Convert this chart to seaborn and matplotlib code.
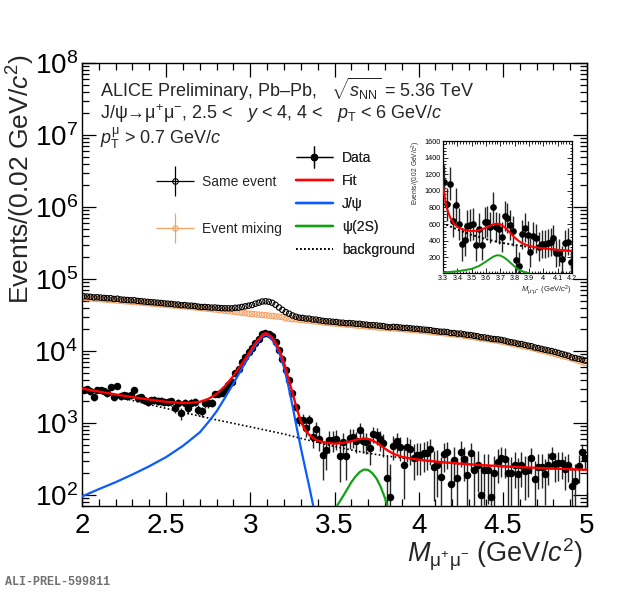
import numpy as np
import pandas as pd
import matplotlib
matplotlib.use("Agg")
import matplotlib.pyplot as plt
import matplotlib.ticker as mticker
from matplotlib.container import ErrorbarContainer
from matplotlib.legend_handler import HandlerErrorbar
from matplotlib.lines import Line2D
import seaborn as sns

# histogram binning: 150 bins of 0.02 GeV/c2 between 2 and 5
mass_lo, bin_w, n_bins = 2.0, 0.02, 150
mass = np.round(mass_lo + bin_w * (np.arange(n_bins) + 0.5), 3)

# mixed-event subtracted data
data_counts = [
    2900, 2980, 2750, 2290, 2900, 2850, 2750, 2600, 3150, 2290,
    3220, 2340, 2420, 2380, 2420, 2900, 2240, 2290, 2110, 1950,
    2060, 2110, 2020, 2020, 1950, 1950, 1990, 1610, 1870, 1350,
    1870, 1590, 1900, 1950, 1510, 1440, 1870, 1870, 1900, 2490,
    2540, 2640, 2900, 3320, 3670, 4900, 5600, 6900, 8200, 9600,
    10800, 13000, 14800, 16900, 17600, 17300, 16000, 13500, 10300, 7600,
    5400, 4000, 2600, 1650, 1100, 1110, 840, 1085, 640, 835,
    600, 355, 415, 575, 585, 605, 343, 540, 350, 625,
    630, 560, 800, 564, 546, 442, 698, 676, 589, 519,
    170, 92, 480, 558, 466, 260, 456, 428, 330, 357,
    357, 377, 385, 428, 247, 257, 176, 369, 389, 142,
    305, 170, 397, 311, 189, 377, 222, 260, 100, 222,
    222, 92, 200, 290, 321, 311, 200, 200, 260, 195,
    260, 217, 222, 321, 166, 247, 247, 195, 260, 346,
    268, 274, 280, 230, 260, 133, 158, 250, 397, 330,
]
data_err = [
    284, 283, 281, 280, 279, 277, 276, 275, 274, 273,
    272, 270, 269, 268, 267, 266, 264, 263, 262, 261,
    259, 258, 257, 256, 254, 253, 252, 251, 249, 248,
    247, 246, 245, 243, 242, 241, 240, 239, 238, 237,
    236, 235, 235, 234, 233, 232, 232, 232, 233, 234,
    235, 236, 238, 240, 241, 240, 236, 231, 225, 219,
    215, 212, 207, 205, 203, 201, 200, 199, 198, 197,
    196, 194, 193, 192, 191, 190, 190, 189, 187, 186,
    185, 184, 184, 183, 182, 181, 180, 179, 179, 178,
    176, 175, 175, 174, 173, 173, 172, 172, 171, 170,
    169, 168, 167, 167, 166, 165, 163, 162, 162, 160,
    159, 158, 157, 156, 155, 154, 153, 151, 150, 149,
    148, 146, 145, 144, 143, 141, 139, 139, 137, 134,
    133, 132, 130, 128, 128, 126, 124, 122, 121, 119,
    117, 116, 114, 112, 111, 110, 108, 106, 104, 102,
]
same_event = [
    57400, 56980, 56350, 55390, 55600, 55050, 54450, 53900, 53950, 52690,
    53120, 51840, 51420, 50980, 50520, 50600, 49540, 49090, 48510, 47950,
    47560, 47210, 46720, 46220, 45750, 45350, 44990, 44210, 44070, 43150,
    43270, 42590, 42500, 42050, 41210, 40740, 40770, 40370, 39900, 40090,
    39640, 39240, 39100, 39020, 38970, 39700, 39900, 40800, 41600, 42500,
    43400, 45300, 46700, 48500, 48900, 48200, 46600, 43700, 40200, 37200,
    34600, 32900, 31100, 29850, 29000, 28710, 28140, 28085, 27340, 27235,
    26700, 26155, 25815, 25675, 25385, 25205, 24743, 24640, 24250, 24325,
    24130, 23760, 23800, 23364, 23146, 22742, 22798, 22576, 22289, 22119,
    21570, 21292, 21580, 21458, 21166, 20860, 20856, 20628, 20330, 20257,
    19957, 19777, 19585, 19428, 18947, 18757, 18476, 18469, 18289, 17742,
    17705, 17370, 17397, 17011, 16689, 16577, 16222, 15960, 15500, 15422,
    15122, 14792, 14600, 14490, 14221, 13911, 13500, 13200, 12960, 12595,
    12460, 12117, 11822, 11621, 11166, 10947, 10647, 10395, 10160, 9946,
    9668, 9374, 9080, 8830, 8560, 8133, 7958, 7750, 7597, 7330,
]
mixed_event = [
    54500, 54000, 53600, 53100, 52700, 52200, 51700, 51300, 50800, 50400,
    49900, 49500, 49000, 48600, 48100, 47700, 47300, 46800, 46400, 46000,
    45500, 45100, 44700, 44200, 43800, 43400, 43000, 42600, 42200, 41800,
    41400, 41000, 40600, 40100, 39700, 39300, 38900, 38500, 38000, 37600,
    37100, 36600, 36200, 35700, 35300, 34800, 34300, 33900, 33400, 32900,
    32600, 32300, 31900, 31600, 31300, 30900, 30600, 30200, 29900, 29600,
    28300, 28000, 27600, 27400, 27100, 26800, 26500, 26200, 25900, 25600,
    25300, 25000, 24600, 24300, 24100, 23900, 23700, 23400, 23200, 23000,
    22800, 22500, 22300, 22100, 21900, 21600, 21400, 21200, 21000, 21000,
    20800, 20600, 20500, 20300, 20100, 20000, 19800, 19600, 19400, 19300,
    19000, 18800, 18600, 18400, 18100, 17900, 17800, 17600, 17400, 17100,
    16900, 16700, 16500, 16200, 16000, 15700, 15500, 15200, 14900, 14700,
    14500, 14300, 14000, 13800, 13500, 13200, 12900, 12600, 12300, 12000,
    11800, 11500, 11300, 11000, 10700, 10400, 10100, 9900, 9600, 9300,
    9100, 8800, 8500, 8300, 8100, 7800, 7600, 7300, 7000, 6800,
]

# fit components
fit_m = [2.0, 2.1, 2.2, 2.3, 2.4, 2.5, 2.6, 2.65, 2.7, 2.75,
         2.8, 2.85, 2.9, 2.95, 3.0, 3.025, 3.05, 3.075, 3.09, 3.1,
         3.125, 3.15, 3.175, 3.2, 3.225, 3.25, 3.275, 3.3, 3.325, 3.35,
         3.375, 3.4, 3.45, 3.5, 3.55, 3.6, 3.625, 3.65, 3.675, 3.7,
         3.725, 3.75, 3.775, 3.8, 3.825, 3.85, 3.9, 3.95, 4.0, 4.1,
         4.2, 4.3, 4.4, 4.5, 4.6, 4.7, 4.8, 4.9, 5.0]
fit_total = [3000, 2720, 2480, 2280, 2110, 1960, 1890, 1900, 1960, 2150,
             2520, 3250, 4500, 6600, 10000, 12300, 14600, 17000, 17600, 17400,
             15700, 13000, 9900, 6900, 4200, 2650, 1600, 1050, 800, 680,
             610, 565, 530, 515, 525, 555, 578, 598, 605, 598,
             570, 530, 485, 438, 402, 372, 338, 320, 308, 290,
             277, 266, 257, 250, 243, 237, 232, 227, 223]
jpsi_m = [2.0, 2.1, 2.2, 2.3, 2.4, 2.5, 2.6, 2.7, 2.75, 2.8,
          2.85, 2.9, 2.95, 3.0, 3.025, 3.05, 3.075, 3.09, 3.1, 3.125,
          3.15, 3.175, 3.2, 3.225, 3.25, 3.275, 3.3, 3.325, 3.35, 3.375]
jpsi_vals = [95, 120, 150, 192, 250, 335, 480, 740, 1020, 1450,
             2250, 3550, 5700, 9100, 11400, 13700, 16000, 16700, 16500, 14800,
             12100, 9000, 5900, 3350, 1750, 870, 450, 240, 130, 68]
psi2s_m = [3.3, 3.35, 3.4, 3.45, 3.5, 3.55, 3.6, 3.625, 3.65, 3.675,
           3.7, 3.725, 3.75, 3.775, 3.8, 3.825, 3.85, 3.875, 3.9]
psi2s_vals = [18, 25, 33, 46, 62, 95, 150, 180, 208, 225,
              222, 200, 168, 128, 90, 58, 35, 20, 10]
bkg_m = [2.0, 2.2, 2.4, 2.6, 2.8, 3.0, 3.2, 3.3, 3.4, 3.5,
         3.6, 3.7, 3.8, 3.9, 4.0, 4.2, 4.4, 4.6, 4.8, 5.0]
bkg_vals = [2990, 2330, 1800, 1400, 1100, 880, 700, 610, 535, 470,
            420, 378, 350, 326, 305, 274, 254, 240, 229, 220]

hist = pd.DataFrame({"mass": mass, "data": data_counts, "err": data_err,
                     "same": same_event, "mixed": mixed_event})

RED, BLUE, GREEN, ORANGE = "#ff0000", "#0a5cff", "#12a012", "#f5a262"

sns.set_theme(style="ticks")
plt.rcParams["font.family"] = ["Liberation Sans", "DejaVu Sans"]
plt.rcParams["mathtext.fontset"] = "custom"
plt.rcParams["mathtext.rm"] = "Liberation Sans"
plt.rcParams["mathtext.it"] = "Liberation Sans:italic"
plt.rcParams["mathtext.bf"] = "Liberation Sans:bold"
plt.rcParams["axes.linewidth"] = 1.0
plt.rcParams["axes.edgecolor"] = "black"

fig = plt.figure(figsize=(6.2, 5.97), dpi=100)
ax = fig.add_axes([82 / 620, 1 - 506 / 597, 505 / 620, 443 / 597])
ax.set_yscale("log")

# same event / event mixing
sns.scatterplot(data=hist, x="mass", y="mixed", ax=ax, marker="o", s=15,
                facecolor="none", edgecolor=ORANGE, linewidth=0.8, zorder=2)
sns.scatterplot(data=hist, x="mass", y="same", ax=ax, marker="o", s=15,
                facecolor="none", edgecolor="black", linewidth=0.8, zorder=3)

# data points
ax.errorbar(hist["mass"], hist["data"], yerr=hist["err"], fmt="o", ms=4.4,
            color="black", ecolor="0.15", elinewidth=1.0, zorder=4)

# fit curves
sns.lineplot(x=bkg_m, y=bkg_vals, ax=ax, color="black", lw=1.2,
             linestyle=(0, (1, 1.4)), zorder=5)
sns.lineplot(x=jpsi_m, y=jpsi_vals, ax=ax, color=BLUE, lw=1.6, zorder=6)
sns.lineplot(x=psi2s_m, y=psi2s_vals, ax=ax, color=GREEN, lw=1.6, zorder=6)
sns.lineplot(x=fit_m, y=fit_total, ax=ax, color=RED, lw=1.7, zorder=7)

ax.set_xlim(2, 5)
ax.set_ylim(70, 1e8)
ax.xaxis.set_major_locator(mticker.MultipleLocator(0.5))
ax.xaxis.set_minor_locator(mticker.MultipleLocator(0.1))
ax.xaxis.set_major_formatter(mticker.StrMethodFormatter("{x:g}"))
ax.yaxis.set_major_locator(mticker.LogLocator(base=10, numticks=20))
ax.yaxis.set_minor_locator(mticker.LogLocator(base=10, subs=np.arange(2, 10), numticks=100))
ax.yaxis.set_minor_formatter(mticker.NullFormatter())
ax.tick_params(which="both", direction="in", top=True, right=True, width=0.9, colors="black")
ax.tick_params(which="major", length=10, labelsize=20)
ax.tick_params(which="minor", length=5)
ax.tick_params(axis="x", pad=5)
ax.tick_params(axis="y", pad=3)

ax.set_xlabel(r"$M_{\mathrm{\mu^{+}\mu^{-}}}$ (GeV/$c^{2}$)", fontsize=19.5, loc="right")
ax.set_ylabel(r"Events/(0.02 GeV/$c^{2}$)", fontsize=19, loc="top")
ax.xaxis.set_label_coords(0.993, -0.07)
ax.yaxis.set_label_coords(-0.09, 1.02)

# header text
fig.text(100 / 620, 1 - 89 / 597, r"ALICE Preliminary, Pb–Pb,   $\sqrt{s_{\mathrm{NN}}}$ = 5.36 TeV",
         fontsize=13, va="center")
fig.text(100 / 620, 1 - 114 / 597, r"J/ψ→μ$^{+}$μ$^{-}$, 2.5 <   $y$ < 4, 4 <   $p_{\mathrm{T}}$ < 6 GeV/$c$",
         fontsize=13, va="center")
fig.text(100 / 620, 1 - 138 / 597, r"$p_{\mathrm{T}}^{\mathrm{\mu}}$ > 0.7 GeV/$c$",
         fontsize=13, va="center")

# legends
h_same = ax.errorbar([np.nan], [np.nan], xerr=[0.1], yerr=[0.1], fmt="o", ms=4,
                     mfc="none", mec="black", mew=0.8, ecolor="black", elinewidth=0.9)
h_mix = ax.errorbar([np.nan], [np.nan], xerr=[0.1], yerr=[0.1], fmt="o", ms=4,
                    mfc="none", mec=ORANGE, mew=0.8, ecolor=ORANGE, elinewidth=0.9)
h_data = ax.errorbar([np.nan], [np.nan], xerr=[0.1], yerr=[0.1], fmt="o", ms=4.4,
                     color="black", ecolor="black", elinewidth=0.9)

leg1 = ax.legend([h_same, h_mix], ["Same event", "Event mixing"], loc="upper left",
                 bbox_to_anchor=(156 / 620, 1 - 175 / 597), bbox_transform=fig.transFigure,
                 frameon=False, fontsize=10, borderpad=0, borderaxespad=0,
                 handlelength=2.73, handletextpad=0.55, labelspacing=2.37,
                 handler_map={ErrorbarContainer: HandlerErrorbar(xerr_size=1.37, yerr_size=1.08)})
ax.add_artist(leg1)

fit_handles = [
    h_data,
    Line2D([], [], color=RED, lw=1.7),
    Line2D([], [], color=BLUE, lw=1.7),
    Line2D([], [], color=GREEN, lw=1.7),
    Line2D([], [], color="black", lw=1.2, linestyle=(0, (1, 1.4))),
]
leg2 = ax.legend(fit_handles, ["Data", "Fit", "J/ψ", "ψ(2S)", "background"], loc="upper left",
                 bbox_to_anchor=(296 / 620, 1 - 151 / 597), bbox_transform=fig.transFigure,
                 frameon=False, fontsize=10, borderpad=0, borderaxespad=0,
                 handlelength=2.66, handletextpad=0.65, labelspacing=0.65,
                 handler_map={ErrorbarContainer: HandlerErrorbar(xerr_size=1.33, yerr_size=0.79)})
ax.add_artist(leg2)

# inset: zoom on the psi(2S) region, linear scale
axin = fig.add_axes([443 / 620, 1 - 273 / 597, 129 / 620, 132 / 597])
sel = hist[(hist["mass"] > 3.3) & (hist["mass"] < 4.2)]
axin.errorbar(sel["mass"], sel["data"], yerr=sel["err"], fmt="o", ms=3.8,
              color="black", ecolor="0.15", elinewidth=1.0, zorder=3)
sns.lineplot(x=bkg_m, y=bkg_vals, ax=axin, color="black", lw=1.4,
             linestyle=(0, (1, 1.2)), zorder=4)
sns.lineplot(x=psi2s_m, y=psi2s_vals, ax=axin, color=GREEN, lw=1.4, zorder=5)
sns.lineplot(x=fit_m, y=fit_total, ax=axin, color=RED, lw=1.5, zorder=6)
axin.set_xlim(3.3, 4.2)
axin.set_ylim(12, 1600)
axin.xaxis.set_major_locator(mticker.MultipleLocator(0.1))
axin.xaxis.set_minor_locator(mticker.MultipleLocator(0.02))
axin.xaxis.set_major_formatter(mticker.StrMethodFormatter("{x:g}"))
axin.yaxis.set_major_locator(mticker.MultipleLocator(200))
axin.yaxis.set_minor_locator(mticker.MultipleLocator(40))
axin.tick_params(which="both", direction="in", top=True, right=True, width=0.6, colors="black")
axin.tick_params(which="major", length=3.5, labelsize=5.2, pad=1.5)
axin.tick_params(which="minor", length=1.8)
for s in axin.spines.values():
    s.set_linewidth(0.9)
axin.set_xlabel(r"$M_{\mathrm{\mu^{+}\mu^{-}}}$ (GeV/$c^{2}$)", fontsize=5.5, loc="right", labelpad=1)
axin.set_ylabel(r"Events/(0.02 GeV/$c^{2}$)", fontsize=4.8, loc="top", labelpad=1)

fig.text(5 / 620, 1 - 585 / 597, "ALI-PREL-599811", family="Liberation Mono",
         weight="bold", fontsize=8.5, color="#707070", va="baseline")

fig.savefig("out.png", dpi=100)
